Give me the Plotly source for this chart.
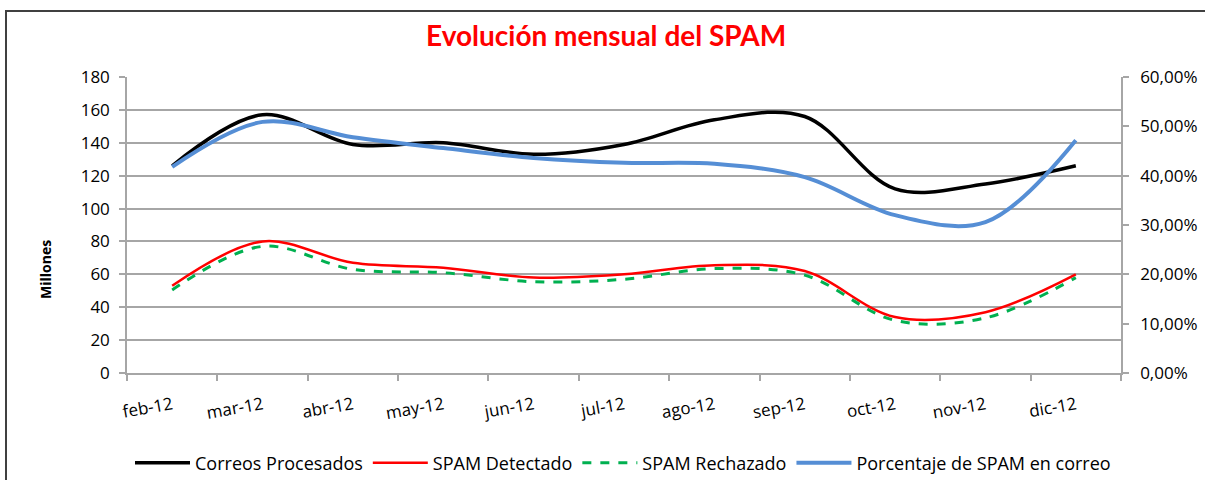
import plotly.graph_objects as go

months = ["feb-12", "mar-12", "abr-12", "may-12", "jun-12", "jul-12",
          "ago-12", "sep-12", "oct-12", "nov-12", "dic-12"]
correos_procesados = [126, 157, 139, 140, 133, 139, 154, 156, 112, 115, 126]
spam_detectado = [53, 80, 67, 64, 58, 60, 65.5, 62, 34, 37, 60]
spam_rechazado = [50.5, 77, 63, 61, 55.5, 57, 63.5, 59.5, 32, 33.5, 58]
porcentaje_spam = [0.418, 0.509, 0.478, 0.456, 0.436, 0.426, 0.424, 0.397, 0.32, 0.306, 0.472]

left_ticks = list(range(0, 181, 20))
right_ticks = [0, 0.1, 0.2, 0.3, 0.4, 0.5, 0.6]

FONT = "Open Sans"
GRID = "#a6a6a6"

fig = go.Figure()
fig.add_trace(go.Scatter(x=months, y=correos_procesados, name="Correos Procesados",
                         mode="lines", line=dict(color="#000000", width=3.5, shape="spline", smoothing=1)))
fig.add_trace(go.Scatter(x=months, y=spam_detectado, name="SPAM Detectado",
                         mode="lines", line=dict(color="#ff0000", width=2.5, shape="spline", smoothing=1)))
fig.add_trace(go.Scatter(x=months, y=spam_rechazado, name="SPAM Rechazado",
                         mode="lines", line=dict(color="#00b050", width=3, dash="dash", shape="spline", smoothing=1)))
fig.add_trace(go.Scatter(x=months, y=porcentaje_spam, name="Porcentaje de SPAM en correo", yaxis="y2",
                         mode="lines", line=dict(color="#558ed5", width=4, shape="spline", smoothing=1)))

fig.update_layout(
    width=1205, height=480,
    paper_bgcolor="white", plot_bgcolor="white",
    separators=",.",
    margin=dict(l=127, r=84, t=77, b=107, autoexpand=False),
    title=dict(text="<b>Evolución mensual del SPAM</b>", x=0.503, xanchor="center",
               y=0.925, yanchor="middle", font=dict(family="Lato", size=28, color="#ff0000")),
    xaxis=dict(type="category", range=[-0.5, 10.5], tickson="boundaries",
               showgrid=False, showline=True, linecolor=GRID, linewidth=1.5,
               ticks="outside", ticklen=6, tickcolor=GRID, tickwidth=1.5,
               tickangle=-10, tickfont=dict(family=FONT, size=17, color="#000000"),
               ticklabelstandoff=14),
    yaxis=dict(range=[0, 180], tickvals=left_ticks, showgrid=True, gridcolor=GRID, gridwidth=1.5,
               showline=True, linecolor=GRID, linewidth=1.5, ticks="outside", ticklen=6,
               tickcolor=GRID, tickwidth=1.5, zeroline=False, ticklabelstandoff=6,
               tickfont=dict(family=FONT, size=17, color="#000000")),
    yaxis2=dict(range=[0, 0.6], tickvals=right_ticks, tickformat=".2%", overlaying="y", side="right",
                showgrid=False, showline=True, linecolor=GRID, linewidth=1.5, ticks="outside",
                ticklen=6, tickcolor=GRID, tickwidth=1.5, zeroline=False, ticklabelstandoff=8,
                tickfont=dict(family=FONT, size=17, color="#000000")),
    legend=dict(orientation="h", xref="container", yref="container",
                x=623 / 1205, xanchor="center", y=1 - 463 / 480, yanchor="middle",
                font=dict(family=FONT, size=18, color="#000000"), itemwidth=55,
                bgcolor="rgba(0,0,0,0)"),
    showlegend=True,
)

fig.add_annotation(text="<b>Millones</b>", xref="paper", yref="paper",
                   x=(45 - 127) / 994, y=(373 - 270) / 296, xanchor="center", yanchor="middle",
                   textangle=-90, showarrow=False,
                   font=dict(family=FONT, size=14, color="#000000"))

# chart frame
fig.add_shape(type="rect", xref="paper", yref="paper",
              x0=(6 - 127) / 994, x1=(1215 - 127) / 994, y0=(373 - 495) / 296, y1=(373 - 11) / 296,
              line=dict(color="#404040", width=2), fillcolor="rgba(0,0,0,0)", layer="below")

fig.write_html("out.html", config={"displayModeBar": False},
               post_script="document.body.style.margin='0';document.body.style.overflow='hidden';")
